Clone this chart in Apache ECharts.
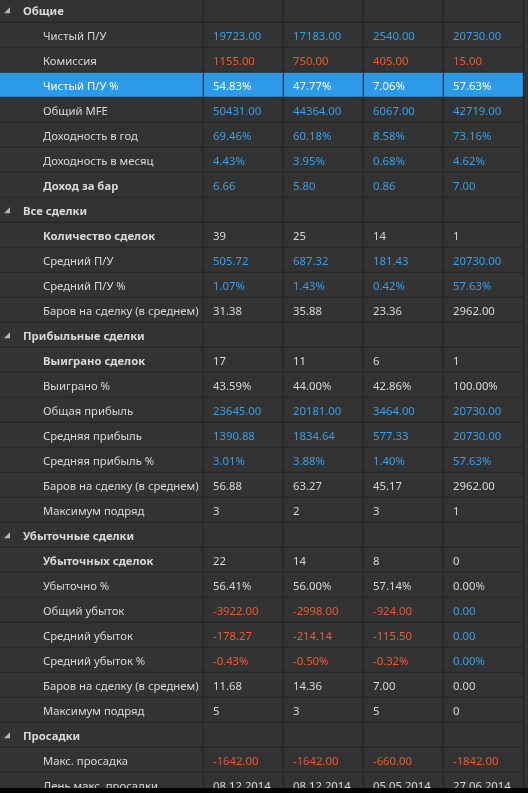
<!DOCTYPE html>
<html>
<head>
<meta charset="utf-8">
<script src="https://cdn.jsdelivr.net/npm/echarts@6/dist/echarts.min.js"></script>
<style>
html,body{margin:0;padding:0;background:#333333;}
#c{width:528px;height:793px;}
</style>
</head>
<body>
<div id="c"></div>
<script>
// ---- data ----
var rowLabels = [
  "Общие","Чистый П/У","Комиссия","Чистый П/У %","Общий MFE","Доходность в год","Доходность в месяц","Доход за бар",
  "Все сделки","Количество сделок","Средний П/У","Средний П/У %","Баров на сделку (в среднем)",
  "Прибыльные сделки","Выиграно сделок","Выиграно %","Общая прибыль","Средняя прибыль","Средняя прибыль %","Баров на сделку (в среднем)","Максимум подряд",
  "Убыточные сделки","Убыточных сделок","Убыточно %","Общий убыток","Средний убыток","Средний убыток %","Баров на сделку (в среднем)","Максимум подряд",
  "Просадки","Макс. просадка","День макс. просадки"
];
// h = group header, b = bold item, n = normal item
var rowKinds = ["h","n","n","n","n","n","n","b","h","b","n","n","n","h","b","n","n","n","n","n","n","h","b","n","n","n","n","n","n","h","n","n"];
var selectedRow = 3;
var col1 = ["","19723.00","1155.00","54.83%","50431.00","69.46%","4.43%","6.66","","39","505.72","1.07%","31.38","","17","43.59%","23645.00","1390.88","3.01%","56.88","3","","22","56.41%","-3922.00","-178.27","-0.43%","11.68","5","","-1642.00","08.12.2014"];
var col2 = ["","17183.00","750.00","47.77%","44364.00","60.18%","3.95%","5.80","","25","687.32","1.43%","35.88","","11","44.00%","20181.00","1834.64","3.88%","63.27","2","","14","56.00%","-2998.00","-214.14","-0.50%","14.36","3","","-1642.00","08.12.2014"];
var col3 = ["","2540.00","405.00","7.06%","6067.00","8.58%","0.68%","0.86","","14","181.43","0.42%","23.36","","6","42.86%","3464.00","577.33","1.40%","45.17","3","","8","57.14%","-924.00","-115.50","-0.32%","7.00","5","","-660.00","05.05.2014"];
var col4 = ["","20730.00","15.00","57.63%","42719.00","73.16%","4.62%","7.00","","1","20730.00","57.63%","2962.00","","1","100.00%","20730.00","20730.00","57.63%","2962.00","1","","0","0.00%","0.00","0.00","0.00%","0.00","0","","-1842.00","27.06.2014"];
// tone per cell: p = profit (blue), l = loss (red), n = neutral
var tone1 = ["","p","l","n","p","p","p","p","","n","p","p","n","","n","n","p","p","p","n","n","","n","n","l","l","l","n","n","","l","n"];
var tone2 = tone1;
var tone3 = tone1;
var tone4 = ["","p","l","n","p","p","p","p","","n","p","p","n","","n","n","p","p","p","n","n","","n","n","p","p","p","n","n","","l","n"];
var columns = ["c1","c2","c3","c4"];

// ---- styling ----
var BG = "#333333", LINE = "#242424", TXT = "#d8d8d8", BLUE = "#3a9fe6", RED = "#ee5a30", SEL = "#2a9ae9";
var FONT = "'Noto Sans', 'Open Sans', sans-serif";
var FS = '11.3px ';
var TY = 1.5;
var toneColor = {p: BLUE, l: RED, n: TXT};

var cols = [col1, col2, col3, col4];
var tones = [tone1, tone2, tone3, tone4];
var rowIdx = rowLabels.map(function(_, i){ return String(i); });

var labelData = rowLabels.map(function(_, i){ return [0, i]; });
var valueData = [];
for (var c = 0; c < 4; c++) for (var r = 0; r < rowLabels.length; r++) valueData.push([c, r]);

function cellRect(api, x, y){
  var p = api.coord([x, y]);
  var s = api.size([1, 1]);
  return {x: p[0] - s[0]/2, y: p[1] - s[1]/2, w: s[0], h: s[1]};
}

function renderLabel(params, api){
  var r = api.value(1);
  var b = cellRect(api, 0, r);
  var kind = rowKinds[r];
  var sel = r === selectedRow;
  var children = [
    {type:'rect', shape:{x:b.x, y:b.y, width:b.w, height:b.h}, style:{fill: sel ? SEL : BG}},
    {type:'line', shape:{x1:b.x, y1:Math.round(b.y+b.h)-0.5, x2:b.x+b.w, y2:Math.round(b.y+b.h)-0.5}, style:{stroke:LINE, lineWidth:1.4}},
    {type:'line', shape:{x1:Math.round(b.x+b.w)-0.5, y1:b.y, x2:Math.round(b.x+b.w)-0.5, y2:b.y+b.h}, style:{stroke:LINE, lineWidth:1.4}},
    {type:'text', style:{
      x: b.x + (kind === 'h' ? 23 : 43), y: b.y + b.h/2 + TY,
      text: rowLabels[r], fill: sel ? '#ffffff' : TXT,
      font: (kind === 'n' ? 'normal ' : 'bold ') + FS + FONT,
      verticalAlign:'middle', align:'left'
    }}
  ];
  if (kind === 'h') {
    var cx = b.x + 4, cy = b.y + b.h/2;
    children.push({type:'polygon', shape:{points:[[cx, cy+3],[cx+6, cy+3],[cx+6, cy-3]]}, style:{fill:'#b8b8b8'}});
  }
  return {type:'group', children:children};
}

function renderValue(params, api){
  var c = api.value(0), r = api.value(1);
  var b = cellRect(api, c, r);
  var sel = r === selectedRow;
  var t = tones[c][r];
  return {type:'group', children:[
    {type:'rect', shape:{x:b.x, y:b.y, width:b.w, height:b.h}, style:{fill: sel ? SEL : BG}},
    {type:'line', shape:{x1:b.x, y1:Math.round(b.y+b.h)-0.5, x2:b.x+b.w, y2:Math.round(b.y+b.h)-0.5}, style:{stroke:LINE, lineWidth:1.4}},
    {type:'line', shape:{x1:Math.round(b.x+b.w)-0.5, y1:b.y, x2:Math.round(b.x+b.w)-0.5, y2:b.y+b.h}, style:{stroke:LINE, lineWidth:1.4}},
    {type:'text', style:{
      x: b.x + 9, y: b.y + b.h/2 + TY,
      text: cols[c][r], fill: sel ? '#ffffff' : (toneColor[t] || TXT),
      font: 'normal ' + FS + FONT, verticalAlign:'middle', align:'left'
    }}
  ]};
}

var chart = echarts.init(document.getElementById('c'), null, {renderer:'canvas'});
chart.setOption({
  backgroundColor: BG,
  animation: false,
  grid: [
    {left: 0, width: 204, top: -2.3, height: 800, outerBoundsMode: 'none', containLabel: false},
    {left: 204, width: 320, top: -2.3, height: 800, outerBoundsMode: 'none', containLabel: false}
  ],
  xAxis: [
    {type:'category', gridIndex:0, data:['label'], show:false},
    {type:'category', gridIndex:1, data:columns, show:false}
  ],
  yAxis: [
    {type:'category', gridIndex:0, data:rowIdx, inverse:true, show:false},
    {type:'category', gridIndex:1, data:rowIdx, inverse:true, show:false}
  ],
  series: [
    {type:'custom', xAxisIndex:0, yAxisIndex:0, data:labelData, renderItem:renderLabel, clip:false, silent:true},
    {type:'custom', xAxisIndex:1, yAxisIndex:1, data:valueData, renderItem:renderValue, clip:false, silent:true}
  ],
  graphic: [
    {type:'rect', left:0, top:788, shape:{width:528, height:5}, style:{fill:'#000000'}, z:100}
  ]
});
</script>
</body>
</html>
